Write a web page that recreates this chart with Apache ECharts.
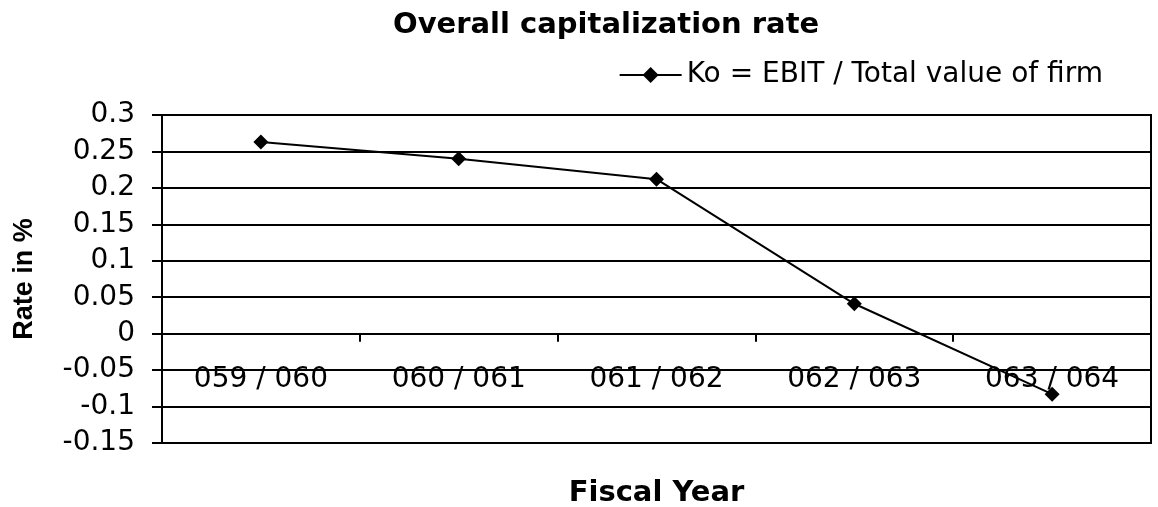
<!DOCTYPE html>
<html>
<head>
<meta charset="utf-8">
<script src="https://cdn.jsdelivr.net/npm/echarts@6/dist/echarts.min.js"></script>
<style>html,body{margin:0;padding:0;background:#fff}#c{width:1158px;height:507px}</style>
</head>
<body>
<div id="c"></div>
<script>
var categories = ['059 / 060', '060 / 061', '061 / 062', '062 / 063', '063 / 064'];
var koValues = [0.263, 0.240, 0.212, 0.041, -0.083];
var seriesName = 'Ko = EBIT / Total value of firm';
var titleText = 'Overall capitalization rate';
var xName = 'Fiscal Year';
var yName = 'Rate in %';

var font = '"DejaVu Sans", sans-serif';
var fontV = '"Liberation Sans", Arial, sans-serif';
var chart = echarts.init(document.getElementById('c'), null, {renderer: 'canvas'});
chart.setOption({
  animation: false,
  backgroundColor: '#ffffff',
  title: {
    text: titleText, left: 388, top: 6,
    textStyle: {fontFamily: font, fontSize: 29, fontWeight: 'bold', color: '#000'}
  },
  legend: {
    data: [seriesName], right: 50, top: 56, itemWidth: 62, itemHeight: 20, itemGap: 4,
    textStyle: {fontFamily: font, fontSize: 28, color: '#000'}
  },
  grid: {left: 162, right: 7, top: 115, bottom: 64, show: true, borderColor: '#000', borderWidth: 2,
    containLabel: false, outerBoundsMode: 'none'},
  xAxis: {
    type: 'category', data: categories, boundaryGap: true,
    axisLine: {onZero: true, lineStyle: {color: '#000', width: 2}},
    axisTick: {show: true, interval: 0, inside: false, length: 8, lineStyle: {color: '#000', width: 2}},
    axisLabel: {interval: 0, margin: -77, fontFamily: font, fontSize: 28, color: '#000'},
    name: xName, nameLocation: 'middle', nameGap: 36,
    nameTextStyle: {fontFamily: font, fontSize: 29, fontWeight: 'bold', color: '#000'}
  },
  yAxis: {
    type: 'value', min: -0.15, max: 0.3, interval: 0.05,
    axisLine: {show: true, lineStyle: {color: '#000', width: 2}},
    axisTick: {show: true, length: 10, lineStyle: {color: '#000', width: 2}},
    splitLine: {show: true, lineStyle: {color: '#000', width: 2}},
    axisLabel: {margin: 27, fontFamily: font, fontSize: 28, color: '#000',
      formatter: function (v) { return String(Math.round(v * 100) / 100); }},
    name: yName, nameLocation: 'middle', nameGap: 124, nameRotate: 90,
    nameTextStyle: {fontFamily: fontV, fontSize: 27, fontWeight: 'bold', color: '#000'}
  },
  series: [{
    name: seriesName, type: 'line', data: koValues,
    symbol: 'diamond', symbolSize: 15,
    lineStyle: {color: '#000', width: 2},
    itemStyle: {color: '#000'}
  }]
});
</script>
</body>
</html>
